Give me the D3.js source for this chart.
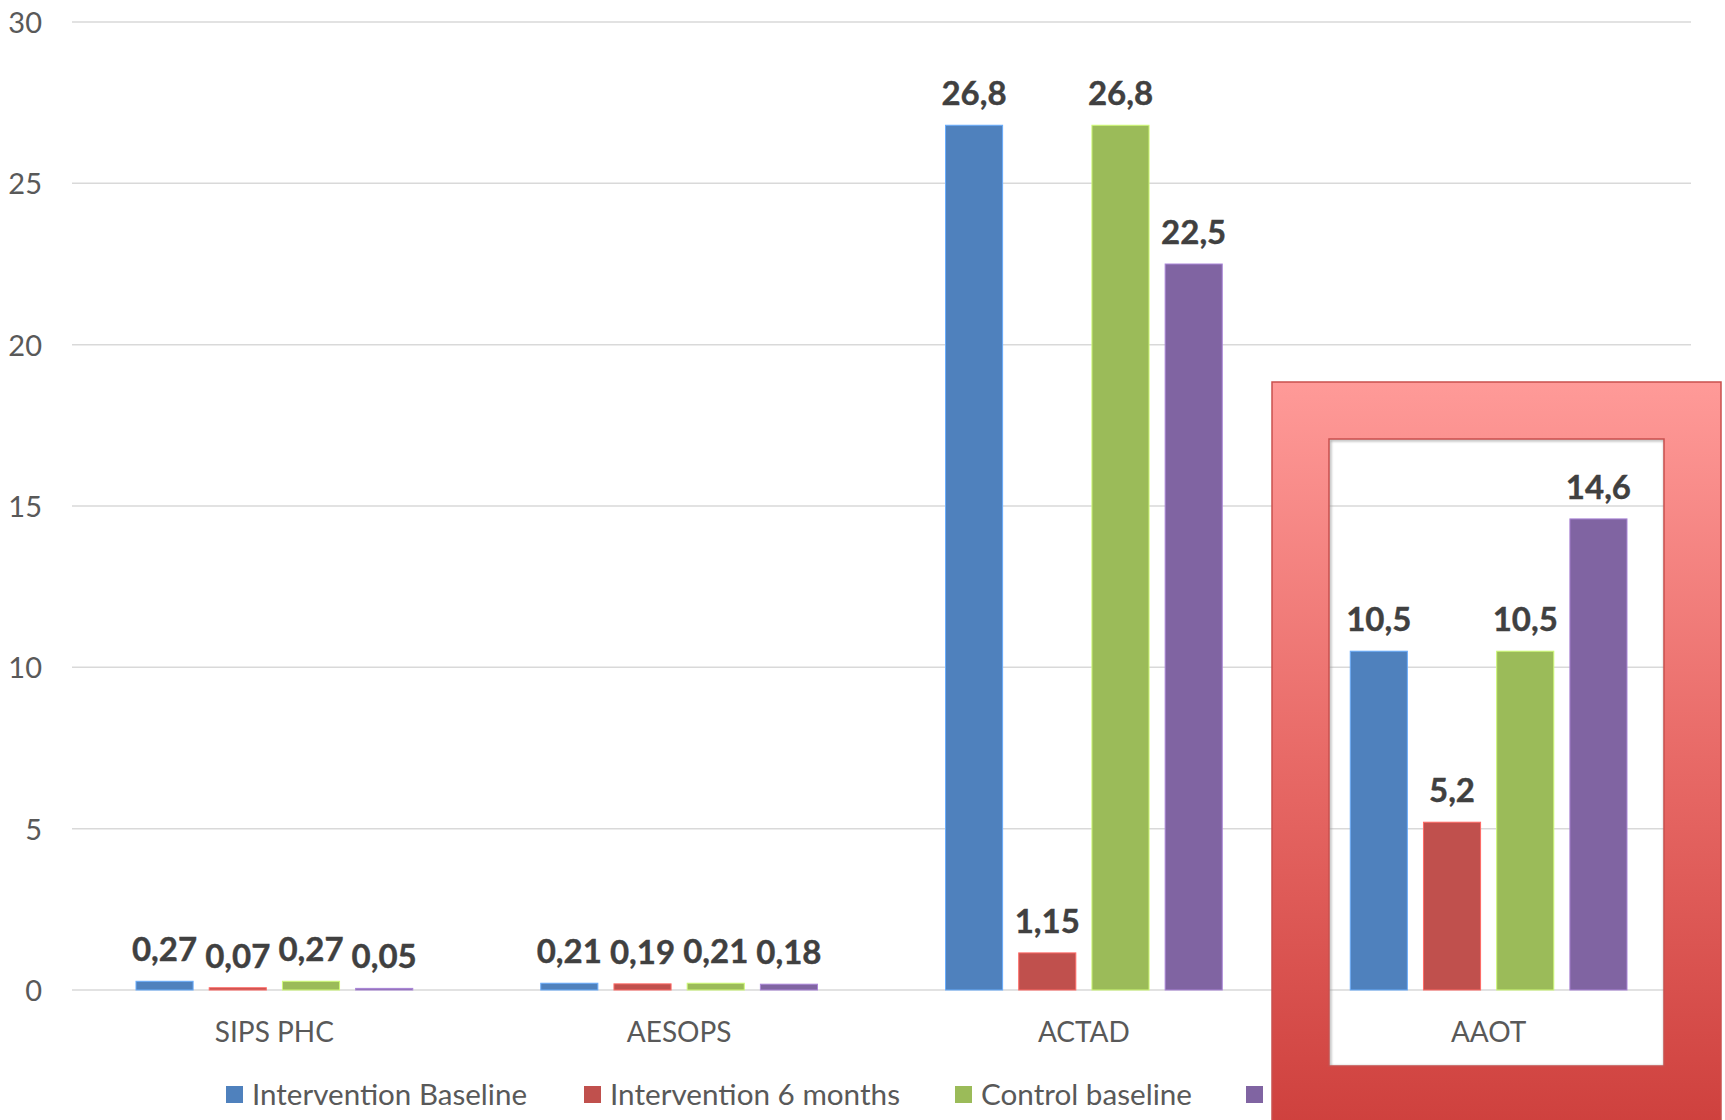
<!DOCTYPE html>
<html>
<head>
<meta charset="utf-8">
<script src="https://cdn.jsdelivr.net/npm/d3@7"></script>
<style>
  html, body { margin: 0; padding: 0; background: #fff; }
  svg { display: block; }
  text { font-family: Lato, "Open Sans", sans-serif; }
</style>
</head>
<body>
<svg id="chart" width="1725" height="1120"></svg>
<script>
// Chart data
const categories = ["SIPS PHC", "AESOPS", "ACTAD", "AAOT"];
const seriesNames = ["Intervention Baseline", "Intervention 6 months", "Control baseline", "Control 6 months"];
const seriesColors = ["#4F81BD", "#C0504D", "#9BBB59", "#8064A2"];
const interventionBaseline = [0.27, 0.21, 26.8, 10.5];
const intervention6m = [0.07, 0.19, 1.15, 5.2];
const controlBaseline = [0.27, 0.21, 26.8, 10.5];
const control6m = [0.05, 0.18, 22.5, 14.6];
const yTicks = [0, 5, 10, 15, 20, 25, 30];
const seriesValues = [interventionBaseline, intervention6m, controlBaseline, control6m];

const svg = d3.select("#chart");
const plot = { left: 72, right: 1691, top: 22, bottom: 990 };

const y = d3.scaleLinear().domain([0, 30]).range([plot.bottom, plot.top]);
const x0 = d3.scaleBand().domain(categories).range([plot.left, plot.right]).paddingInner(0).paddingOuter(0);
const x1 = d3.scaleBand().domain(d3.range(4)).range([64, x0.bandwidth() - 64]).paddingInner(0.22).paddingOuter(0);

// Gridlines
svg.append("g")
  .selectAll("line")
  .data(yTicks)
  .join("line")
  .attr("x1", plot.left).attr("x2", plot.right)
  .attr("y1", d => y(d)).attr("y2", d => y(d))
  .attr("stroke", "#D9D9D9").attr("stroke-width", 1.5);

// Y axis labels
const yAxis = d3.axisLeft(y).tickValues(yTicks).tickSize(0).tickPadding(0);
const gy = svg.append("g").attr("transform", "translate(42,0)").call(yAxis);
gy.select(".domain").remove();
gy.selectAll("text")
  .attr("font-size", 29).attr("fill", "#595959")
  .attr("font-family", "Lato, sans-serif").attr("dy", "0.36em");

// X axis labels
const xAxis = d3.axisBottom(x0).tickSize(0).tickPadding(0);
const gx = svg.append("g").attr("transform", `translate(0,${plot.bottom})`).call(xAxis);
gx.select(".domain").remove();
gx.selectAll("text")
  .attr("font-size", 28).attr("fill", "#595959")
  .attr("font-family", "Lato, sans-serif").attr("y", 52).attr("dy", 0);

// Bars and value labels
const fmt = v => String(v).replace(".", ",");
const groups = svg.append("g")
  .selectAll("g")
  .data(categories)
  .join("g")
  .attr("transform", d => `translate(${x0(d)},0)`);

groups.each(function (cat, ci) {
  const g = d3.select(this);
  const vals = seriesValues.map(s => s[ci]);
  g.selectAll("rect")
    .data(vals)
    .join("rect")
    .attr("x", (d, i) => x1(i))
    .attr("width", x1.bandwidth())
    .attr("y", d => y(d))
    .attr("height", d => plot.bottom - y(d))
    .attr("fill", (d, i) => seriesColors[i])
    .attr("stroke", (d, i) => d3.color(seriesColors[i]).brighter(0.8))
    .attr("stroke-width", 1);
  g.selectAll("text.val")
    .data(vals)
    .join("text")
    .attr("class", "val")
    .attr("x", (d, i) => x1(i) + x1.bandwidth() / 2)
    .attr("y", d => y(d) - 20)
    .attr("text-anchor", "middle")
    .attr("font-size", 33).attr("font-weight", 700)
    .attr("fill", "#404040")
    .attr("stroke", "#404040").attr("stroke-width", 0.4)
    .text(d => fmt(d));
});

// Legend
const legendPos = [226, 584, 955, 1246];
const legendTextLen = [275, 290, 211, 260];
const legend = svg.append("g")
  .selectAll("g")
  .data(seriesNames)
  .join("g")
  .attr("transform", (d, i) => `translate(${legendPos[i]},1086)`);
legend.append("rect")
  .attr("width", 17).attr("height", 17)
  .attr("fill", (d, i) => seriesColors[i]);
legend.append("text")
  .attr("x", 26).attr("y", 8.5).attr("dy", "0.36em")
  .attr("font-size", 28).attr("fill", "#595959")
  .attr("textLength", (d, i) => legendTextLen[i])
  .attr("lengthAdjust", "spacingAndGlyphs")
  .text(d => d);

// Highlight frame around the last category
const defs = svg.append("defs");
const grad = defs.append("linearGradient")
  .attr("id", "frameGrad")
  .attr("gradientUnits", "userSpaceOnUse")
  .attr("x1", 0).attr("x2", 0).attr("y1", 382).attr("y2", 1130);
grad.append("stop").attr("offset", "0%").attr("stop-color", "#FF9A98");
grad.append("stop").attr("offset", "50%").attr("stop-color", "#E86A67");
grad.append("stop").attr("offset", "100%").attr("stop-color", "#CE403D");

const shadow = defs.append("filter").attr("id", "innerShadow")
  .attr("x", "-5%").attr("y", "-5%").attr("width", "110%").attr("height", "110%");
shadow.append("feGaussianBlur").attr("stdDeviation", 1.5);

const outer = { x: 1272, y: 382, w: 1721 - 1272, h: 800 };
const inner = { x: 1329, y: 439, w: 1664 - 1329, h: 1066 - 439 };

// soft shadow along the inner edge
svg.append("rect")
  .attr("x", inner.x + 1).attr("y", inner.y + 1)
  .attr("width", inner.w).attr("height", inner.h)
  .attr("fill", "none").attr("stroke", "#9a9a9a").attr("stroke-width", 2)
  .attr("filter", "url(#innerShadow)");

const framePath = `M${outer.x},${outer.y}h${outer.w}v${outer.h}h${-outer.w}Z ` +
  `M${inner.x},${inner.y}v${inner.h}h${inner.w}v${-inner.h}Z`;
svg.append("path")
  .attr("d", framePath)
  .attr("fill", "url(#frameGrad)")
  .attr("fill-rule", "evenodd")
  .attr("stroke", "#C9504D").attr("stroke-width", 1.5);
</script>
</body>
</html>
